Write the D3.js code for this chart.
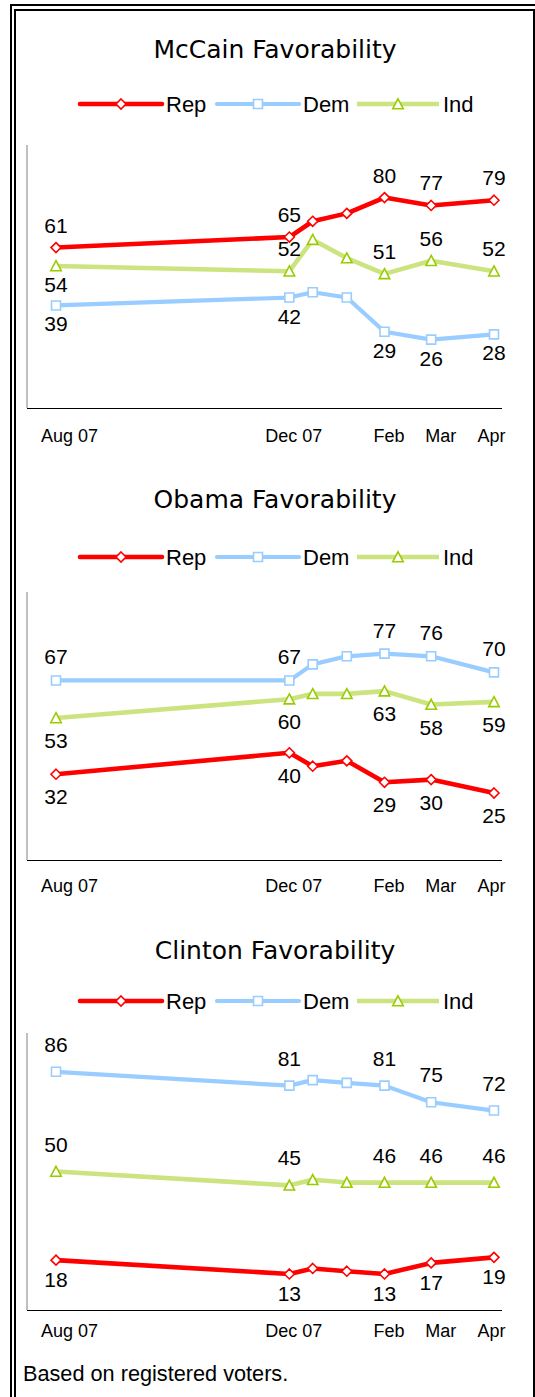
<!DOCTYPE html>
<html>
<head>
<meta charset="utf-8">
<script src="https://cdn.jsdelivr.net/npm/d3@7"></script>
<style>
  body { margin: 0; background: #fff; }
  svg { display: block; }
</style>
</head>
<body>
<svg id="chart" width="535" height="1397"></svg>
<script>
// ---- Data ---------------------------------------------------------------
// Survey field dates; the x axis is a calendar axis.
const pollDates  = ["2007-08-01", "2007-12-09", "2007-12-22", "2008-01-10", "2008-01-31", "2008-02-26", "2008-04-01"];
const tickLabels = ["Aug 07", "Dec 07", "", "", "Feb", "Mar", "Apr"];
const seriesNames = ["Rep", "Dem", "Ind"];

const mccainRep = [61, 65, 71, 74, 80, 77, 79];
const mccainDem = [39, 42, 44, 42, 29, 26, 28];
const mccainInd = [54, 52, 64, 57, 51, 56, 52];

const obamaRep = [32, 40, 35, 37, 29, 30, 25];
const obamaDem = [67, 67, 73, 76, 77, 76, 70];
const obamaInd = [53, 60, 62, 62, 63, 58, 59];

const clintonRep = [18, 13, 15, 14, 13, 17, 19];
const clintonDem = [86, 81, 83, 82, 81, 75, 72];
const clintonInd = [50, 45, 47, 46, 46, 46, 46];

const footnote = "Based on registered voters.";

// ---- Layout & style -----------------------------------------------------
const parseDate = d3.timeParse("%Y-%m-%d");
const dates = pollDates.map(parseDate);

const style = {
  Rep: { line: "#ff0000", marker: "#ff0000", shape: "diamond", width: 4.6 },
  Dem: { line: "#99ccff", marker: "#99ccff", shape: "square",  width: 4.2 },
  Ind: { line: "#cce47f", marker: "#99cc00", shape: "triangle", width: 4.6 }
};

const panels = [
  { title: "McCain Favorability", values: { Rep: mccainRep, Dem: mccainDem, Ind: mccainInd },
    titleY: 58, legendY: 104, top: 145, bottom: 408, tickY: 442, above: -15, below: 26,
    sides: { Rep: "above", Dem: "below", Ind: ["below", "above", "", "", "above", "above", "above"] } },
  { title: "Obama Favorability", values: { Rep: obamaRep, Dem: obamaDem, Ind: obamaInd },
    titleY: 508, legendY: 557, top: 592, bottom: 860, tickY: 892, above: -16, below: 30,
    sides: { Rep: "below", Dem: "above", Ind: "below" } },
  { title: "Clinton Favorability", values: { Rep: clintonRep, Dem: clintonDem, Ind: clintonInd },
    titleY: 959, legendY: 1001, top: 1033, bottom: 1310, tickY: 1337, above: -20, below: 27,
    sides: { Rep: "below", Dem: "above", Ind: "above" } }
];

const plotLeft = 27, plotRight = 502;
const tickNudge = [13, 4, 0, 0, 4, 9, -3];

const textFont = "'Liberation Sans', Arial, sans-serif";
const titleFont = "'DejaVu Sans', Verdana, sans-serif";

// Marker shapes
const shapes = {
  diamond: { draw(ctx, size) { const r = Math.sqrt(size) / 2;
    ctx.moveTo(0, -r); ctx.lineTo(r, 0); ctx.lineTo(0, r); ctx.lineTo(-r, 0); ctx.closePath(); } },
  square: { draw(ctx, size) { const r = Math.sqrt(size) / 2;
    ctx.rect(-r, -r, 2 * r, 2 * r); } },
  triangle: { draw(ctx, size) { const r = Math.sqrt(size) / 2;
    ctx.moveTo(0, -r); ctx.lineTo(r, r * 0.9); ctx.lineTo(-r, r * 0.9); ctx.closePath(); } }
};
const markerSize = { diamond: 100, square: 81, triangle: 110 };
const symbolFor = name => d3.symbol().type(shapes[style[name].shape]).size(markerSize[style[name].shape]);

const svg = d3.select("#chart");

// ---- Double frame -------------------------------------------------------
svg.append("rect").attr("x", 11).attr("y", 5).attr("width", 700).attr("height", 1500)
  .attr("fill", "none").attr("stroke", "#000").attr("stroke-width", 2);
svg.append("rect").attr("x", 15).attr("y", 10).attr("width", 519).attr("height", 1500)
  .attr("fill", "none").attr("stroke", "#000").attr("stroke-width", 2);

const x = d3.scaleTime().domain(d3.extent(dates)).range([56, 494]);

panels.forEach(p => {
  const g = svg.append("g");
  const y = d3.scaleLinear().domain([0, 100]).range([p.bottom, p.top]);

  // Title
  g.append("text").attr("x", 275).attr("y", p.titleY).attr("text-anchor", "middle")
    .attr("font-family", titleFont).attr("font-size", 25).attr("fill", "#000")
    .text(p.title);

  // Legend
  const legendX = { Rep: 80, Dem: 217, Ind: 357 };
  seriesNames.forEach(name => {
    const s = style[name], lx = legendX[name];
    const lg = g.append("g");
    lg.append("line").attr("x1", lx).attr("x2", lx + 82).attr("y1", p.legendY).attr("y2", p.legendY)
      .attr("stroke", s.line).attr("stroke-width", s.width)
      .attr("stroke-linecap", name === "Ind" ? "butt" : "round");
    lg.append("path").attr("d", symbolFor(name)())
      .attr("transform", `translate(${lx + 41},${p.legendY})`)
      .attr("fill", "#fff").attr("stroke", s.marker).attr("stroke-width", 1.6);
    lg.append("text").attr("x", lx + 86).attr("y", p.legendY + 8)
      .attr("font-family", textFont).attr("font-size", 22).attr("fill", "#000").text(name);
  });

  // Axes lines
  g.append("line").attr("x1", plotLeft).attr("x2", plotLeft).attr("y1", p.top).attr("y2", p.bottom)
    .attr("stroke", "#808080").attr("stroke-width", 1);
  g.append("line").attr("x1", plotLeft).attr("x2", plotRight).attr("y1", p.bottom + 0.5).attr("y2", p.bottom + 0.5)
    .attr("stroke", "#000").attr("stroke-width", 1);

  // Category labels along the bottom
  const labeledIdx = tickLabels.map((t, i) => t ? i : -1).filter(i => i >= 0);
  const axis = d3.axisBottom(x)
    .tickValues(labeledIdx.map(i => dates[i]))
    .tickSize(0)
    .tickFormat((d, k) => tickLabels[labeledIdx[k]]);
  const ax = g.append("g").attr("transform", `translate(0,${p.tickY - 14})`).call(axis);
  ax.select(".domain").remove();
  ax.selectAll(".tick text")
    .attr("font-family", textFont).attr("font-size", 18).attr("fill", "#000")
    .attr("dy", 0).attr("y", 14)
    .attr("dx", (d, k) => tickNudge[labeledIdx[k]]);

  // Series
  seriesNames.forEach(name => {
    const s = style[name];
    const vals = p.values[name];
    const pts = vals.map((v, i) => ({ i, v, d: dates[i] }));
    const line = d3.line().x(d => x(d.d)).y(d => y(d.v));
    g.append("path").datum(pts).attr("d", line)
      .attr("fill", "none").attr("stroke", s.line).attr("stroke-width", s.width)
      .attr("stroke-linejoin", "round");
    g.selectAll(null).data(pts).enter().append("path")
      .attr("d", symbolFor(name)())
      .attr("transform", d => `translate(${x(d.d)},${y(d.v)})`)
      .attr("fill", "#fff").attr("stroke", s.marker).attr("stroke-width", 1.6);

    const side = i => Array.isArray(p.sides[name]) ? p.sides[name][i] : p.sides[name];
    g.selectAll(null).data(pts.filter(d => tickLabels[d.i])).enter().append("text")
      .attr("x", d => x(d.d))
      .attr("y", d => y(d.v) + (side(d.i) === "above" ? p.above : p.below))
      .attr("text-anchor", "middle")
      .attr("font-family", textFont).attr("font-size", 21).attr("fill", "#000")
      .text(d => d.v);
  });
});

// Footnote
svg.append("text").attr("x", 23).attr("y", 1381)
  .attr("font-family", textFont).attr("font-size", 21.7).attr("fill", "#000")
  .text(footnote);
</script>
</body>
</html>
